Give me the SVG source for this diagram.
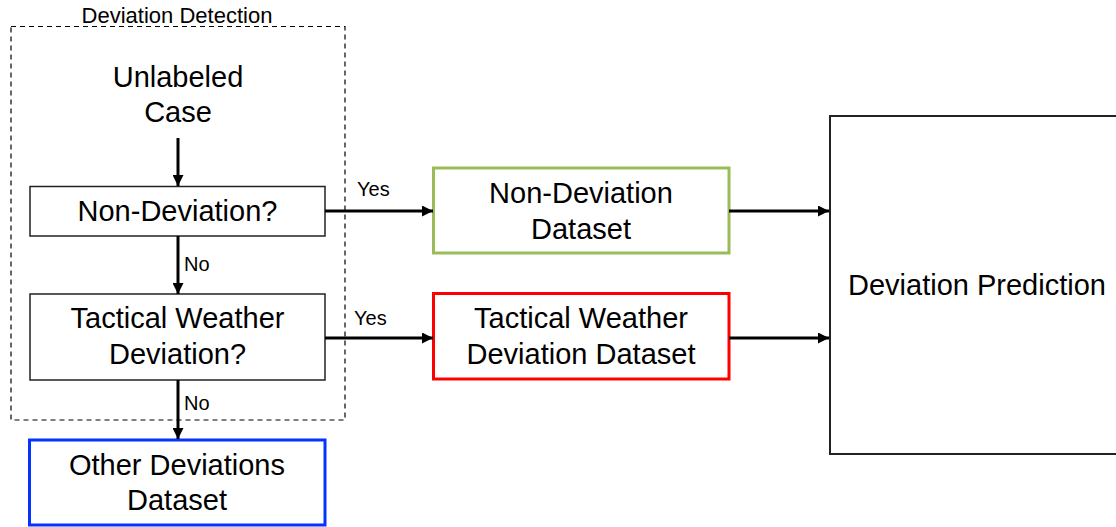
<svg xmlns="http://www.w3.org/2000/svg" width="1116" height="527" viewBox="0 0 1116 527">
  <style>
    text { font-family: "Liberation Sans", Arial, Helvetica, sans-serif; fill: #000; }
    .big { font-size: 29px; text-anchor: middle; }
    .lbl { font-size: 20px; }
    .title { font-size: 22px; text-anchor: middle; }
    .box { fill: #fff; stroke: #222; stroke-width: 1.5; }
    .conn { stroke: #000; stroke-width: 3; fill: none; marker-end: url(#head); }
  </style>
  <defs>
    <marker id="head" viewBox="0 0 10 10" refX="10" refY="5" markerWidth="11" markerHeight="11" markerUnits="userSpaceOnUse" orient="auto">
      <path d="M0,0 L10,5 L0,10 z" fill="#000"/>
    </marker>
  </defs>

  <rect width="1116" height="527" fill="#fff"/>

  <!-- detection stage frame -->
  <g id="deviation-detection">
    <rect x="11" y="26.5" width="334" height="393.5" fill="none" stroke="#000" stroke-width="1.2" stroke-dasharray="5,4"/>
    <text class="title" x="177" y="23">Deviation Detection</text>
  </g>

  <g id="unlabeled-case">
    <text class="big" x="178" y="87">Unlabeled</text>
    <text class="big" x="178" y="122">Case</text>
  </g>

  <g id="non-deviation-check">
    <rect class="box" x="30" y="186.5" width="295" height="49.5"/>
    <text class="big" x="177.5" y="221">Non-Deviation?</text>
  </g>

  <g id="tactical-check">
    <rect class="box" x="30" y="294" width="295" height="86"/>
    <text class="big" x="177.5" y="327.5">Tactical Weather</text>
    <text class="big" x="177.5" y="363.5">Deviation?</text>
  </g>

  <g id="other-deviations-dataset">
    <rect x="29.5" y="440" width="295.5" height="85" fill="#fff" stroke="#0432ff" stroke-width="3"/>
    <text class="big" x="177" y="475">Other Deviations</text>
    <text class="big" x="177" y="510">Dataset</text>
  </g>

  <g id="non-deviation-dataset">
    <rect x="433.5" y="168" width="295.5" height="85" fill="#fff" stroke="#9bbb59" stroke-width="3"/>
    <text class="big" x="581" y="203">Non-Deviation</text>
    <text class="big" x="581" y="239">Dataset</text>
  </g>

  <g id="tactical-dataset">
    <rect x="433.5" y="293.5" width="295.5" height="85.5" fill="#fff" stroke="#ff0000" stroke-width="3"/>
    <text class="big" x="581" y="328">Tactical Weather</text>
    <text class="big" x="581" y="364">Deviation Dataset</text>
  </g>

  <g id="deviation-prediction">
    <rect x="830" y="116" width="296" height="338" fill="#fff" stroke="#222" stroke-width="2"/>
    <text class="big" x="977" y="295">Deviation Prediction</text>
  </g>

  <g id="connectors">
    <line class="conn" x1="178" y1="138" x2="178" y2="186"/>
    <line class="conn" x1="178" y1="236" x2="178" y2="294"/>
    <line class="conn" x1="178" y1="380" x2="178" y2="439"/>
    <line class="conn" x1="325" y1="211" x2="433" y2="211"/>
    <line class="conn" x1="325" y1="338" x2="433" y2="338"/>
    <line class="conn" x1="729" y1="211" x2="829" y2="211"/>
    <line class="conn" x1="729" y1="338" x2="829" y2="338"/>
    <text class="lbl" x="184" y="271">No</text>
    <text class="lbl" x="184" y="410">No</text>
    <text class="lbl" x="357" y="196">Yes</text>
    <text class="lbl" x="354" y="325">Yes</text>
  </g>
</svg>
